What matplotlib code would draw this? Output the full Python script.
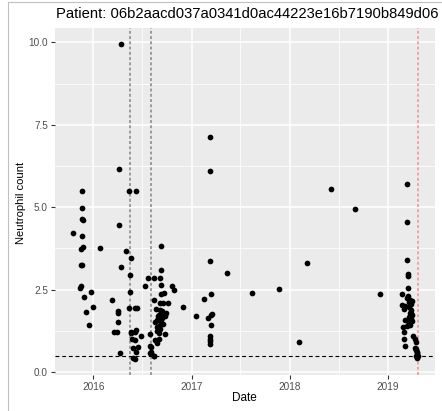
import numpy as np
import matplotlib
matplotlib.use("Agg")
import matplotlib.pyplot as plt
import matplotlib.dates as mdates
from matplotlib.lines import Line2D
from matplotlib.ticker import FixedLocator, FormatStrFormatter

plt.rcParams["font.family"] = ["Liberation Sans", "DejaVu Sans"]

patient_id = "06b2aacd037a0341d0ac44223e16b7190b849d06"

# neutrophil measurements, grouped by period
dates_early = ["2015-10-17", "2015-11-13", "2015-11-15", "2015-11-15", "2015-11-16",
               "2015-11-19", "2015-11-19", "2015-11-19", "2015-11-20", "2015-11-21",
               "2015-11-23", "2015-11-23", "2015-11-26", "2015-12-05", "2015-12-17",
               "2015-12-23", "2016-01-01", "2016-01-28", "2016-03-12", "2016-03-18",
               "2016-03-31", "2016-04-01", "2016-04-02", "2016-04-01", "2016-04-06",
               "2016-04-06", "2016-04-11", "2016-04-15", "2016-05-02", "2016-05-15",
               "2016-04-14"]
anc_early = [4.23, 2.56, 2.60, 3.73, 3.25,
             4.99, 4.64, 4.14, 5.48, 3.25,
             4.61, 3.78, 2.28, 1.81, 1.44,
             2.43, 1.96, 3.77, 2.19, 1.23,
             1.23, 1.85, 1.80, 1.52, 6.17,
             4.46, 0.57, 3.19, 3.66, 5.48,
             9.95]

dates_mid16 = ["2016-05-20", "2016-05-17", "2016-05-17", "2016-05-15", "2016-06-05",
               "2016-06-12", "2016-06-09", "2016-05-20", "2016-05-21", "2016-06-03",
               "2016-06-08", "2016-06-27", "2016-05-26", "2016-06-03", "2016-05-29",
               "2016-06-15", "2016-06-08", "2016-05-29", "2016-06-05", "2016-07-11",
               "2016-07-23"]
anc_mid16 = [3.45, 2.95, 2.43, 1.93, 1.93,
             1.93, 5.48, 1.20, 1.18, 1.22,
             1.28, 1.10, 1.00, 0.98, 0.73,
             0.77, 0.60, 0.42, 0.39, 2.61,
             2.84]

dates_late16 = ["2016-07-31", "2016-07-31", "2016-08-03", "2016-07-30", "2016-08-03",
                "2016-08-14", "2016-08-16", "2016-08-16", "2016-09-07", "2016-09-11",
                "2016-09-10", "2016-09-10", "2016-10-19", "2016-10-28", "2016-09-20",
                "2016-09-09", "2016-08-16", "2016-09-05", "2016-09-15", "2016-10-06",
                "2016-08-20", "2016-12-01", "2016-09-07", "2016-09-14", "2016-09-21",
                "2016-09-29", "2016-09-02", "2016-09-26", "2016-08-30", "2016-09-14",
                "2016-08-27", "2016-09-10", "2016-08-18", "2016-09-16", "2016-09-06",
                "2016-08-24", "2016-09-04", "2016-08-25", "2016-09-02", "2016-09-24",
                "2016-09-02", "2016-08-18", "2016-08-24"]
anc_late16 = [1.16, 0.78, 0.62, 0.59, 0.75,
              0.50, 0.49, 2.84, 2.84, 3.83,
              3.10, 2.63, 2.61, 2.49, 2.41,
              2.37, 2.19, 2.11, 2.11, 2.11,
              1.91, 1.96, 1.89, 1.84, 1.77,
              1.79, 1.74, 1.71, 1.69, 1.64,
              1.59, 1.53, 1.53, 1.46, 1.43,
              1.38, 1.30, 1.25, 1.18, 1.15,
              1.01, 0.96, 0.88]

dates_1718 = ["2017-01-18", "2017-02-15", "2017-03-05", "2017-03-10", "2017-03-10",
              "2017-03-10", "2017-03-14", "2017-03-16", "2017-03-19", "2017-03-13",
              "2017-03-09", "2017-03-09", "2017-03-09", "2017-03-09", "2017-05-14",
              "2017-08-15", "2017-11-21", "2018-02-05", "2018-03-05", "2018-06-05",
              "2018-08-31", "2018-12-04"]
anc_1718 = [1.71, 2.21, 1.64, 7.14, 6.11,
            3.36, 2.37, 1.73, 1.76, 1.44,
            1.09, 1.01, 0.93, 0.85, 3.01,
            2.41, 2.52, 0.91, 3.31, 5.55,
            4.96, 2.37]

dates_2019 = ["2019-03-13", "2019-03-13", "2019-03-13", "2019-03-16", "2019-03-19",
              "2019-03-16", "2019-02-24", "2019-03-19", "2019-03-15", "2019-03-25",
              "2019-03-31", "2019-03-23", "2019-03-27", "2019-02-25", "2019-03-05",
              "2019-03-21", "2019-03-02", "2019-03-28", "2019-03-30", "2019-03-25",
              "2019-04-01", "2019-03-22", "2019-03-29", "2019-03-05", "2019-03-18",
              "2019-04-03", "2019-03-25", "2019-03-15", "2019-02-27", "2019-03-02",
              "2019-04-06", "2019-03-02", "2019-04-12", "2019-04-16", "2019-03-07",
              "2019-04-12", "2019-04-17", "2019-04-18", "2019-04-21", "2019-04-21",
              "2019-04-16", "2019-04-23", "2019-04-19"]
anc_2019 = [5.71, 4.55, 3.41, 2.97, 2.92,
            2.55, 2.36, 2.31, 2.24, 2.19,
            2.17, 2.14, 2.05, 2.03, 2.00,
            1.97, 1.90, 1.89, 1.80, 1.79,
            1.74, 1.67, 1.61, 1.59, 1.54,
            1.54, 1.44, 1.39, 1.37, 1.21,
            1.08, 1.00, 1.00, 0.90, 0.80,
            0.73, 0.70, 0.66, 0.62, 0.58,
            0.50, 0.50, 0.44]

treatment_dates = ["2016-05-16", "2016-08-02"]
last_visit = "2019-04-25"
threshold = 0.5

dates = np.array(dates_early + dates_mid16 + dates_late16 + dates_1718 + dates_2019,
                 dtype="datetime64[D]")
anc = np.array(anc_early + anc_mid16 + anc_late16 + anc_1718 + anc_2019)

W, H = 442, 411
fig = plt.figure(figsize=(W / 100, H / 100), dpi=100)
ax = fig.add_axes([54.5 / W, 1 - 375 / H, (435 - 54.5) / W, (375 - 28) / H])

# ggplot-like grey panel
ax.set_facecolor("#EBEBEB")
for s in ax.spines.values():
    s.set_visible(False)

ax.set_xlim(np.datetime64("2015-08-10"), np.datetime64("2019-06-26"))
ax.set_ylim(-0.09, 10.44)

years = [np.datetime64(f"{y}-01-01") for y in range(2016, 2020)]
mids = [np.datetime64(f"{y}-07-02") for y in range(2015, 2020)]
ax.xaxis.set_major_locator(FixedLocator(mdates.date2num(years)))
ax.xaxis.set_minor_locator(FixedLocator(mdates.date2num(mids)))
ax.xaxis.set_major_formatter(mdates.DateFormatter("%Y"))
ax.yaxis.set_major_locator(FixedLocator([0, 2.5, 5, 7.5, 10]))
ax.yaxis.set_minor_locator(FixedLocator([1.25, 3.75, 6.25, 8.75]))
ax.yaxis.set_major_formatter(FormatStrFormatter("%.1f"))

ax.grid(which="major", color="white", lw=1.1)
ax.grid(which="minor", color="white", lw=0.55)
ax.set_axisbelow(True)
ax.tick_params(which="major", length=2.7, width=0.8, color="#333333",
               labelsize=7.2, labelcolor="#4D4D4D", pad=2)
ax.tick_params(which="minor", length=0)

ax.scatter(dates, anc, s=17, color="black", linewidths=0, zorder=3)

for d in treatment_dates:
    ax.axvline(np.datetime64(d), color="#9A9A9A", lw=1.4, dashes=(1.5, 1.2), zorder=2)
ax.axvline(np.datetime64(last_visit), color="#F4A3A3", lw=1.4, dashes=(1.5, 1.2), zorder=2)
ax.axhline(threshold, color="black", lw=0.8, dashes=(3.5, 2.5), zorder=2)

fig.text(56 / W, 1 - 14 / H, f"Patient: {patient_id}", ha="left", va="center",
         fontsize=10.6, color="black")
fig.text((54.5 + 435) / 2 / W, 1 - 397.5 / H, "Date", ha="center", va="center",
         fontsize=8.5, color="black")
fig.text(21.5 / W, 1 - 203 / H, "Neutrophil count", ha="center", va="center",
         rotation=90, fontsize=8.1, color="black")

# thin frame along the left and top edges
fig.add_artist(Line2D([8 / W, 8 / W], [0, 1 - 1.7 / H], color="#C0C0C0", lw=0.8))
fig.add_artist(Line2D([8 / W, 1], [1 - 1.7 / H, 1 - 1.7 / H], color="#C0C0C0", lw=0.8))

fig.savefig("out.png", dpi=100)
